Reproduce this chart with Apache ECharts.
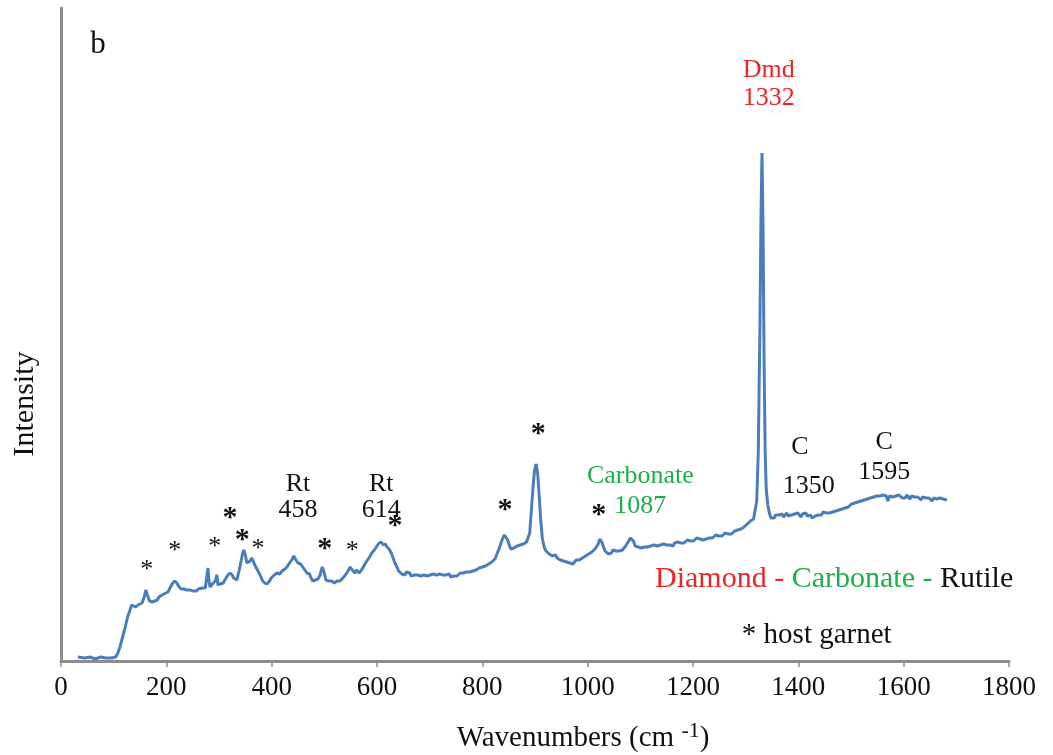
<!DOCTYPE html>
<html>
<head>
<meta charset="utf-8">
<script src="https://cdn.jsdelivr.net/npm/echarts@6/dist/echarts.min.js"></script>
<style>
  html, body { margin: 0; padding: 0; background: #ffffff; }
  #chart { width: 1053px; height: 755px; }
</style>
</head>
<body>
<div id="chart"></div>
<script>
// Raman spectrum of the inclusion: [wavenumber (cm-1), intensity (arb. units)]
const lowRange = [
  [32,4],[45,3],[55,4],[65,2],[75,4],[85,3],[95,3],[104,4],[108,8],[112,14],[117,24],[122,34],[127,45],[131,51],
  [134,56],[138,55],[142,54],[146,56],[150,57],[154,58],[158,64],[161,71],[164,66],[168,60],[171,62],[173,59],
  [176,61],[178,60],[181,62],[183,61],[186,64],[188,63],[192,66],[195,65],[199,68],[203,69],[206,72],[208,74],
  [212,78],[216,80],[220,78],[223,75],[225,73],[228,72],[230,71],[233,72],[235,70],[239,71],[242,69],[246,71],
  [250,70],[253,71],[257,70],[261,72],[264,70],[268,73],[270,72],[274,73],[277,85],[279,93],[281,80],[283,74],
  [286,76],[289,78],[293,80],[296,86],[298,76],[302,77],[305,79],[308,78],[311,81],[313,82],[317,86],[321,88],
  [325,86],[328,83],[330,82],[334,81],[338,90],[342,100],[345,108],[347,111],[350,106],[353,98],[355,96],[359,100],
  [362,103],[365,102],[369,95],[374,90],[378,86],[383,80],[387,78],[391,77],[396,80],[399,83],[401,84],[405,86],
  [408,85],[410,88],[413,86],[415,87],[418,89],[420,90],[425,92],[429,94],[431,93],[434,98],[438,101],[442,105],
  [446,101],[450,98],[453,96],[455,97],[459,94],[463,91],[465,92],[467,88],[470,90],[472,87],[474,84],[478,80],
  [481,82],[483,81],[488,82],[492,86],[496,94],[499,90],[503,81],[506,82],[508,80],[511,81],[514,80],[517,81],
  [519,78],[522,80],[524,80],[527,79],[530,80],[533,82],[535,83],[540,86],[545,90],[549,94],[553,91],[556,89],
  [558,88],[561,91],[563,90],[566,88],[568,89],[572,92],[577,97],[582,101],[586,104],[590,108],[595,111],[600,115],
  [604,118],[608,119],[612,116],[616,117],[619,114],[623,112],[627,108],[630,104],[634,98],[638,94]
];
const midRange = [
  [641,90],[644,89],[647,87],[650,88],[653,86],[656,89],[659,87],[662,88],[665,85],[668,87],[671,86],[674,88],
  [677,86],[680,88],[683,85],[686,87],[689,86],[692,88],[695,85],[698,87],[701,86],[704,84],[707,87],[710,85],
  [713,86],[716,84],[719,87],[722,85],[725,86],[728,84],[731,86],[734,85],[737,87],[740,84],[743,86],[746,85],
  [749,87],[752,85],[755,86],[758,88],[761,86],[764,88],[767,87],[770,89],[773,87],[776,89],[779,88],[782,90],
  [785,89],[788,91],[791,90],[794,93],[797,92],[800,94],[803,93],[806,95],[809,94],[812,97],[815,96],[818,99],
  [821,98],[824,102],[827,106],[830,110],[833,114],[836,119],[839,123],[842,126],[845,125],[848,121],[851,116],
  [854,112],[857,110],[860,113],[863,112],[866,115],[869,114],[872,116],[875,114],[878,117],[881,118],[884,119],
  [887,121],[890,128],[893,150],[896,172],[899,190],[902,197],[905,188],[908,165],[911,140],[914,122],[918,113],
  [921,110],[924,109],[927,107],[930,108],[933,105],[936,104],[939,106],[942,103],[945,104],[948,101],[951,103],
  [954,100],[957,101],[960,99],[963,101],[966,98],[969,100],[972,97],[975,99],[978,101],[981,99],[984,101],
  [987,100],[990,103],[993,102],[996,105],[999,104],[1002,107],[1005,106],[1008,109],[1011,110],[1014,112],
  [1017,113],[1020,117],[1023,122],[1025,123],[1027,119],[1030,114],[1033,110],[1036,109],[1039,107],[1042,109],
  [1045,108],[1048,111],[1051,109],[1054,110],[1057,112],[1060,110],[1063,112],[1066,111],[1069,113],[1072,115],
  [1075,117],[1078,120],[1081,123],[1084,124],[1087,120],[1090,115],[1093,113],[1096,114],[1099,112],[1102,113],
  [1105,111],[1108,114],[1111,112],[1114,114],[1117,113],[1120,115],[1123,113],[1126,116],[1129,114],[1132,115],
  [1135,113],[1138,116],[1141,115],[1144,117],[1147,115],[1150,116],[1153,118],[1156,116],[1159,117],[1162,115],
  [1165,118],[1168,116],[1171,119],[1174,117],[1177,118],[1180,120],[1183,118],[1186,119],[1189,121],[1192,119],
  [1195,120],[1198,122],[1201,120],[1204,121],[1207,123],[1210,121],[1213,122],[1216,124],[1219,121],[1222,123],
  [1225,122],[1228,124],[1231,123],[1234,125],[1237,123],[1240,124],[1243,126],[1246,124],[1249,125],[1252,127],
  [1255,125],[1258,126],[1261,128],[1264,126],[1267,127],[1270,129],[1273,127],[1276,128],[1279,130],[1282,129],
  [1285,131],[1288,130],[1291,132],[1294,133],[1297,134],[1300,136],[1303,137],[1306,138],[1309,140],[1312,141],
  [1315,142],[1318,144]
];
const diamondRange = [
  [1321,160],[1324,210],[1327,330],[1329,440],[1331,508],[1333,430],[1335,300],[1337,210],[1339,172]
];
const highRange = [
  [1342,156],[1345,148],[1348,143],[1351,145],[1354,143],[1357,146],[1360,144],[1363,146],[1366,145],[1369,147],
  [1372,144],[1375,146],[1378,148],[1381,145],[1384,147],[1387,146],[1390,144],[1393,147],[1396,145],[1399,148],
  [1402,146],[1405,144],[1408,147],[1411,146],[1414,148],[1417,145],[1420,147],[1423,146],[1426,143],[1429,141],
  [1432,145],[1435,147],[1438,146],[1441,148],[1444,146],[1447,149],[1450,147],[1453,148],[1456,150],[1459,148],
  [1462,150],[1465,149],[1468,151],[1471,150],[1474,152],[1477,151],[1480,153],[1483,152],[1486,154],[1489,153],
  [1492,155],[1495,154],[1498,155],[1501,157],[1504,156],[1507,158],[1510,157],[1513,159],[1516,158],[1519,160],
  [1522,159],[1525,161],[1528,160],[1531,162],[1534,161],[1537,163],[1540,162],[1543,164],[1546,163],[1549,165],
  [1552,163],[1555,165],[1558,164],[1561,166],[1564,164],[1567,165],[1570,160],[1573,165],[1576,166],[1579,164],
  [1582,166],[1585,165],[1588,163],[1591,166],[1594,164],[1597,163],[1600,165],[1603,163],[1606,166],[1609,164],
  [1612,162],[1615,165],[1618,163],[1621,164],[1624,162],[1627,164],[1630,163],[1633,161],[1636,164],[1639,162],
  [1642,163],[1645,161],[1648,163],[1651,162],[1654,160],[1657,163],[1660,161],[1663,162],[1666,160],[1669,163],
  [1672,161],[1675,162],[1678,160],[1682,161]
];
const xTicks = [0, 200, 400, 600, 800, 1000, 1200, 1400, 1600, 1800];

// host garnet bands marked with asterisks
const garnetMarks = [
  [163, 91], [216, 110], [292, 114], [321, 143], [344, 121], [374, 112],
  [501, 112], [553, 110], [634, 135], [843, 151], [906, 227], [1021, 146]
];
const garnetBold = [false, false, false, true, true, false, true, false, true, true, true, true];

// peak assignments
const noteText = ['Rt\n458', 'Rt\n614', 'Carbonate\n1087', 'Dmd\n1332', 'C', '1350', 'C', '1595'];
const noteAt = [[450, 164], [608, 164], [1100, 170], [1344, 577], [1403, 214], [1420, 175], [1563, 219], [1563, 189]];
const noteColor = ['#111111', '#111111', '#1fae4b', '#ee2424', '#111111', '#111111', '#111111', '#111111'];
const noteLineHeight = [26, 26, 30, 28, 26, 26, 26, 26];

// phases identified in the inclusion
const phaseLine = '{r|Diamond - }{g|Carbonate - }{k|Rutile}';
const phaseLineAt = [1468, 82];
const garnetKey = '* host garnet';
const garnetKeyAt = [1435, 26];

const serif = "'Liberation Serif', 'Times New Roman', serif";

const spectrum = [].concat(lowRange, midRange, diamondRange, highRange);

const labelItems = [];
garnetMarks.forEach((p, i) => {
  labelItems.push({
    value: p,
    label: {
      formatter: '*',
      fontSize: garnetBold[i] ? 30 : 26,
      fontWeight: garnetBold[i] ? 'bold' : 'normal',
      color: '#111111'
    }
  });
});
noteText.forEach((t, i) => {
  labelItems.push({
    value: noteAt[i],
    label: { formatter: t, fontSize: 26, lineHeight: noteLineHeight[i], color: noteColor[i] }
  });
});
labelItems.push({
  value: phaseLineAt,
  label: {
    formatter: phaseLine,
    rich: {
      r: { color: '#ee2424', fontSize: 30, fontFamily: serif },
      g: { color: '#1fae4b', fontSize: 30, fontFamily: serif },
      k: { color: '#111111', fontSize: 30, fontFamily: serif }
    }
  }
});
labelItems.push({
  value: garnetKeyAt,
  label: { formatter: garnetKey, fontSize: 29, color: '#111111' }
});

const chart = echarts.init(document.getElementById('chart'), null, { renderer: 'canvas' });
chart.setOption({
  backgroundColor: '#ffffff',
  animation: false,
  grid: { left: 61, right: 44, top: 8, bottom: 94, containLabel: false },
  xAxis: {
    type: 'value',
    min: xTicks[0],
    max: xTicks[xTicks.length - 1],
    interval: xTicks[1] - xTicks[0],
    axisLine: { show: true, lineStyle: { color: '#8c8c8c', width: 3 } },
    axisTick: { show: true, inside: false, length: 6, lineStyle: { color: '#8c8c8c', width: 1.5 } },
    splitLine: { show: false },
    axisLabel: { color: '#111111', fontSize: 27, fontFamily: serif, margin: 13, formatter: (v) => String(v) }
  },
  yAxis: {
    type: 'value',
    min: 0,
    max: 653,
    axisLine: { show: true, lineStyle: { color: '#8c8c8c', width: 3 } },
    axisTick: { show: false },
    axisLabel: { show: false },
    splitLine: { show: false }
  },
  graphic: [
    {
      type: 'text', x: 25, y: 404, rotation: Math.PI / 2,
      style: { text: 'Intensity', fontSize: 30, fontFamily: serif, fill: '#111111', align: 'center', verticalAlign: 'middle' }
    },
    {
      type: 'text', x: 98, y: 45,
      style: { text: 'b', fontSize: 31, fontFamily: serif, fill: '#111111', align: 'center', verticalAlign: 'middle' }
    },
    {
      type: 'text', x: 583, y: 738,
      style: {
        text: 'Wavenumbers (cm {sup|-1})',
        fontSize: 29, fontFamily: serif, fill: '#111111', align: 'center', verticalAlign: 'middle',
        rich: { sup: { fontSize: 22, fontFamily: serif, fill: '#111111', padding: [0, 0, 14, 0] } }
      }
    }
  ],
  series: [
    {
      type: 'line',
      data: spectrum,
      showSymbol: false,
      symbol: 'none',
      lineStyle: { color: '#4a7ebb', width: 3 },
      z: 3
    },
    {
      type: 'scatter',
      data: labelItems,
      symbolSize: 0,
      silent: true,
      itemStyle: { opacity: 1 },
      label: {
        show: true,
        position: 'inside',
        align: 'center',
        verticalAlign: 'middle',
        fontFamily: serif,
        color: '#111111'
      },
      z: 4
    }
  ]
});
</script>
</body>
</html>
